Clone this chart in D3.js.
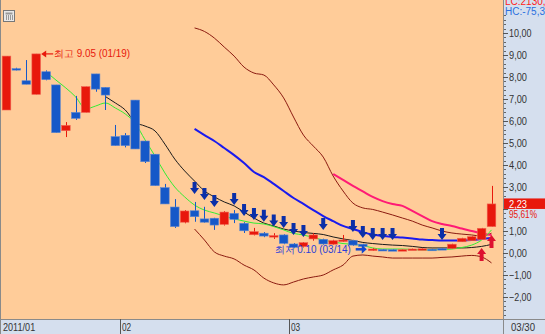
<!DOCTYPE html>
<html><head><meta charset="utf-8">
<script src="https://cdn.jsdelivr.net/npm/d3@7/dist/d3.min.js"></script>
<style>
html,body{margin:0;padding:0;background:#fff;}
svg{display:block;}
text{font-family:"Liberation Sans",Arial,sans-serif;}
</style></head>
<body>
<svg id="c" width="545" height="334"></svg>
<script>
// ---------- data ----------
const dates = ["01/14","01/17","01/18","01/19","01/20","01/21","01/24","01/25","01/26","01/27","01/28","01/31",
"02/01","02/07","02/08","02/09","02/10","02/11","02/14","02/15","02/16","02/17","02/18","02/21","02/22","02/23","02/24","02/25","02/28",
"03/02","03/03","03/04","03/07","03/08","03/09","03/10","03/11","03/14","03/15","03/16","03/17","03/18","03/21","03/22","03/23","03/24","03/25","03/28","03/29","03/30"];
const openV  = [6.50,8.38,7.83,7.21,8.24,7.64,5.56,6.39,6.39,8.14,7.53,5.29,5.35,6.95,5.09,4.49,2.97,2.09,1.40,1.92,1.55,1.58,1.30,1.80,1.35,0.83,0.90,0.75,0.82,0.41,0.29,0.64,0.62,0.40,0.55,0.56,0.40,0.14,0.16,0.15,0.12,0.15,0.16,0.17,0.20,0.21,0.51,0.56,0.62,1.20];
const closeV = [8.95,8.34,7.67,9.05,7.88,5.47,5.80,6.12,7.56,7.45,7.18,4.88,4.88,4.73,4.15,3.06,2.23,1.20,1.91,1.65,1.40,1.27,1.86,1.53,1.01,0.97,0.77,0.79,0.44,0.26,0.47,0.82,0.41,0.56,0.59,0.36,0.30,0.18,0.13,0.12,0.15,0.18,0.19,0.15,0.15,0.40,0.67,0.74,1.12,2.23];
const highV  = [8.95,8.42,8.77,9.05,8.30,7.64,5.95,7.14,7.56,8.14,7.53,5.82,5.45,6.95,5.09,4.49,3.14,2.45,1.95,2.32,2.10,1.60,1.90,1.95,1.40,1.14,0.95,0.90,0.85,0.45,0.50,0.90,0.65,0.60,0.82,0.60,0.42,0.22,0.18,0.17,0.17,0.20,0.21,0.19,0.22,0.42,0.69,0.76,1.14,3.05];
const lowV   = [6.50,8.30,7.67,7.21,7.85,5.47,5.27,6.05,6.39,7.33,6.50,4.88,4.80,4.73,4.09,3.06,2.23,1.14,1.35,1.42,1.38,1.05,1.25,1.36,0.91,0.80,0.72,0.64,0.40,0.22,0.25,0.56,0.38,0.38,0.50,0.33,0.28,0.10,0.12,0.11,0.11,0.14,0.15,0.13,0.14,0.20,0.50,0.55,0.60,1.20];
const ma5  = [null,null,null,null,8.24,7.86,7.50,7.09,6.55,6.68,6.82,6.59,6.32,5.90,5.14,4.41,3.64,3.00,2.55,2.18,1.95,1.82,1.68,1.55,1.45,1.36,1.32,1.20,1.05,0.89,0.82,0.70,0.59,0.50,0.43,0.39,0.34,0.23,0.18,0.18,0.18,0.16,0.14,0.14,0.16,0.18,0.25,0.36,0.59,1.05];
const ma10 = [null,null,null,null,null,null,null,null,null,null,7.11,6.82,6.50,5.95,5.77,5.55,4.95,4.27,3.73,3.27,2.82,2.55,2.32,2.14,1.86,1.59,1.36,1.23,1.09,1.00,0.93,0.89,0.84,0.73,0.64,0.57,0.48,0.43,0.39,0.36,0.34,0.30,0.25,0.23,0.23,0.23,0.23,0.25,0.30,0.39];
const ma20 = [null,null,null,null,null,null,null,null,null,null,null,null,null,null,null,null,null,null,null,5.64,5.36,5.09,4.77,4.45,4.09,3.68,3.45,3.14,2.82,2.50,2.23,1.95,1.68,1.45,1.23,1.09,0.95,0.84,0.77,0.73,0.70,0.66,0.61,0.59,0.57,0.57,0.57,0.59,0.64,0.68];
const bbUpper = [null,null,null,null,null,null,null,null,null,null,null,null,null,null,null,null,null,null,null,10.23,10.07,9.77,9.36,8.95,8.45,8.18,8.09,7.64,7.05,6.18,5.36,4.86,4.36,3.50,2.82,2.27,2.05,1.98,1.86,1.73,1.59,1.45,1.27,1.14,1.00,0.91,0.86,0.82,0.77,0.90];
const bbLower = [null,null,null,null,null,null,null,null,null,null,null,null,null,null,null,null,null,null,null,1.09,0.59,0.05,-0.14,-0.27,-0.55,-0.77,-1.14,-1.36,-1.45,-1.32,-1.18,-1.09,-1.00,-0.77,-0.55,-0.14,-0.09,-0.14,-0.18,-0.23,-0.23,-0.23,-0.23,-0.23,-0.20,-0.18,-0.14,-0.11,-0.18,-0.45];
const maLong = [null,null,null,null,null,null,null,null,null,null,null,null,null,null,null,null,null,null,null,null,null,null,null,null,null,null,null,null,null,null,null,null,null,3.59,3.32,3.05,2.80,2.55,2.36,2.23,2.14,1.91,1.68,1.45,1.32,1.23,1.11,1.00,0.89,0.82];
const sellIdx   = [19,20,21,23,24,25,26,27,28,29,30,32,35,36,37,38,39,44];
const sellLevel = [2.68,2.41,2.09,2.18,1.68,1.50,1.42,1.20,1.14,0.82,0.73,1.05,0.95,0.68,0.59,0.59,0.59,0.59];
const buyIdx   = [48,49];
const buyLevel = [0.23,0.82];
const yTicks = [-2,-1,0,1,2,3,4,5,6,7,8,9,10];
const headerLC = "LC:2130,0";
const headerHC = "HC:-75,3";
const lastPct = "95,61%";

// ---------- layout ----------
const W = 545, H = 334, plotR = 503, plotB = 319;
const svg = d3.select("#c");
const x = d3.scalePoint().domain(d3.range(dates.length)).range([6.5, 491.5]);
const y = d3.scaleLinear().domain([0, 10]).range([253, 33]);
const fmt = v => d3.format(".2f")(v).replace(".", ",");

svg.append("rect").attr("x",0).attr("y",0).attr("width",W).attr("height",H).attr("fill","#d5dfee");
svg.append("rect").attr("x",0).attr("y",0).attr("width",plotR).attr("height",plotB).attr("fill","#ffcc99");
svg.append("line").attr("x1",0.5).attr("x2",0.5).attr("y1",0).attr("y2",H).attr("stroke","#8a8a8a");

// icon
const ic = svg.append("g");
ic.append("rect").attr("x",3.5).attr("y",10.5).attr("width",11).attr("height",11).attr("fill","#e8e8e8").attr("stroke","#777");
ic.append("rect").attr("x",5.5).attr("y",12.5).attr("width",7).attr("height",2).attr("fill","#999");
[6.5,8.5,10.5,12.5].forEach(v=>ic.append("line").attr("x1",v).attr("x2",v).attr("y1",15).attr("y2",20).attr("stroke","#999"));

const plot = svg.append("g");

// lines
const lineGen = arr => d3.line().defined(d => d != null).x((d,i)=>x(i)).y(d=>y(d)).curve(d3.curveMonotoneX)(arr);
plot.append("path").attr("d", lineGen(bbUpper)).attr("fill","none").attr("stroke","#8b1a10").attr("stroke-width",1);
plot.append("path").attr("d", lineGen(bbLower)).attr("fill","none").attr("stroke","#8b1a10").attr("stroke-width",1);
plot.append("path").attr("d", lineGen(maLong)).attr("fill","none").attr("stroke","#ff1a75").attr("stroke-width",2);
plot.append("path").attr("d", lineGen(ma20)).attr("fill","none").attr("stroke","#1a1aee").attr("stroke-width",2);
plot.append("path").attr("d", lineGen(ma10)).attr("fill","none").attr("stroke","#1a1a1a").attr("stroke-width",1);
plot.append("path").attr("d", lineGen(ma5)).attr("fill","none").attr("stroke","#33ee33").attr("stroke-width",1);

// candles
const bw = 8.6;
const cg = plot.selectAll("g.c").data(d3.range(dates.length)).join("g");
const up = i => closeV[i] >= openV[i];
cg.append("line").attr("x1",i=>Math.round(x(i))+0.5).attr("x2",i=>Math.round(x(i))+0.5)
  .attr("y1",i=>y(highV[i])).attr("y2",i=>y(lowV[i]))
  .attr("stroke",i=>up(i)?"#e8180c":"#1558c8");
cg.append("rect").attr("x",i=>x(i)-bw/2).attr("width",bw)
  .attr("y",i=>y(Math.max(openV[i],closeV[i])))
  .attr("height",i=>Math.max(1.5, Math.abs(y(openV[i])-y(closeV[i]))))
  .attr("fill",i=>up(i)?"#e8180c":"#1558c8")
  .attr("stroke",i=>up(i)?"#f06050":"#5c86d0").attr("stroke-width",0.6);

// sell arrows (down)
const downArrow = "M-2,-12 L2,-12 L2,-6 L4.5,-6 L0,0 L-4.5,-6 L-2,-6 Z";
plot.selectAll("path.s").data(sellIdx).join("path")
  .attr("d", downArrow).attr("fill","#0b2fa8")
  .attr("transform",(d,k)=>`translate(${x(d)},${y(sellLevel[k])})`);
const upArrow = "M-2,13 L2,13 L2,6 L4.5,6 L0,0 L-4.5,6 L-2,6 Z";
plot.selectAll("path.b").data(buyIdx).join("path")
  .attr("d", upArrow).attr("fill","#dd1030")
  .attr("transform",(d,k)=>`translate(${x(d)},${y(buyLevel[k])})`);

// max / min annotations
const iMax = d3.maxIndex(highV), iMin = d3.minIndex(lowV);
const mx = x(iMax)+5, my = y(highV[iMax]);
plot.append("line").attr("x1",mx+3).attr("x2",mx+12).attr("y1",my).attr("y2",my).attr("stroke","#e8180c").attr("stroke-width",1.2);
plot.append("path").attr("d",`M${mx},${my} L${mx+5},${my-3.5} L${mx+5},${my+3.5} Z`).attr("fill","#e8180c");
plot.append("text").attr("x",mx+13).attr("y",my).attr("dy","0.35em")
  .attr("font-family","'Noto Sans CJK KR'").attr("font-size",10).attr("fill","#e8180c")
  .attr("textLength",76).attr("lengthAdjust","spacingAndGlyphs")
  .text(`최고 ${highV[iMax].toFixed(2)} (${dates[iMax]})`);
const nx = x(iMin)-6, ny = y(lowV[iMin]) - 1.5;
plot.append("line").attr("x1",nx-11).attr("x2",nx-4).attr("y1",ny).attr("y2",ny).attr("stroke","#1548d0").attr("stroke-width",2.5);
plot.append("path").attr("d",`M${nx},${ny} L${nx-5},${ny-4.5} L${nx-5},${ny+4.5} Z`).attr("fill","#1548d0");
plot.append("text").attr("x",nx-16).attr("y",ny).attr("dy","0.35em").attr("text-anchor","end")
  .attr("font-family","'Noto Sans CJK KR'").attr("font-size",10).attr("fill","#2a3fd8")
  .attr("textLength",76).attr("lengthAdjust","spacingAndGlyphs")
  .text(`최저 ${lowV[iMin].toFixed(2)} (${dates[iMin]})`);

// right axis
const last = closeV[closeV.length-1];
const ly = y(last);
const ax = svg.append("g").attr("transform",`translate(${plotR},0)`);
ax.append("line").attr("x1",0.5).attr("x2",0.5).attr("y1",0).attr("y2",H).attr("stroke","#8a8a8a");
const minor = d3.range(-2.8, 10.81, 0.2).filter(v => Math.abs(v - Math.round(v)) > 0.01);
ax.selectAll("line.mn").data(minor).join("line")
  .attr("x1",1).attr("x2",3).attr("y1",d=>Math.round(y(d))+0.5).attr("y2",d=>Math.round(y(d))+0.5).attr("stroke","#666");
const yAxis = d3.axisRight(y).tickValues(yTicks).tickSize(5).tickFormat(fmt);
const ya = ax.append("g").call(yAxis);
ya.select(".domain").remove();
ya.selectAll(".tick line").attr("stroke","#555");
ya.selectAll(".tick text").attr("x",6).attr("fill","#333").attr("font-size",11)
  .attr("font-family","'Liberation Sans',Arial,sans-serif")
  .attr("textLength",function(d){return this.textContent.length*4.5;}).attr("lengthAdjust","spacingAndGlyphs")
  .attr("display", d => Math.abs(y(d) - ly) < 14 ? "none" : null);

// header texts
ax.append("text").attr("x",2).attr("y",5).attr("fill","#ff2020").attr("font-size",10).text(headerLC);
ax.append("text").attr("x",2).attr("y",15).attr("fill","#2a6fe0").attr("font-size",10).text(headerHC);

// last price box
ax.append("rect").attr("x",1).attr("y",ly-5.5).attr("width",W-plotR).attr("height",10.5).attr("fill","#e8180c");
ax.append("text").attr("x",6).attr("y",ly).attr("dy","0.36em").attr("fill","#fff").attr("font-size",10)
  .attr("textLength",18).attr("lengthAdjust","spacingAndGlyphs").text(fmt(last));
ax.append("text").attr("x",6).attr("y",ly+14.5).attr("fill","#e8180c").attr("font-size",10)
  .attr("textLength",28).attr("lengthAdjust","spacingAndGlyphs").text(lastPct);

// bottom axis
const bt = svg.append("g");
bt.append("line").attr("x1",0).attr("x2",W).attr("y1",plotB+0.5).attr("y2",plotB+0.5).attr("stroke","#8a8a8a");
const monthStarts = d3.range(dates.length).filter(i => i === 0 || dates[i].slice(0,2) !== dates[i-1].slice(0,2));
monthStarts.forEach(i => {
  const bx = i === 0 ? 1 : Math.round((x(i-1)+x(i))/2);
  if (i > 0) bt.append("line").attr("x1",bx+0.5).attr("x2",bx+0.5).attr("y1",plotB).attr("y2",H).attr("stroke","#555");
  const lbl = i === 0 ? "2011/" + dates[i].slice(0,2) : dates[i].slice(0,2);
  bt.append("text").attr("x",bx+2).attr("y",331).attr("fill","#333").attr("font-size",11)
    .attr("textLength",lbl.length*4.6).attr("lengthAdjust","spacingAndGlyphs").text(lbl);
});
bt.append("text").attr("x",plotR+8).attr("y",331).attr("fill","#333").attr("font-size",11)
  .attr("textLength",24).attr("lengthAdjust","spacingAndGlyphs").text(dates[dates.length-1]);
</script>
</body></html>
